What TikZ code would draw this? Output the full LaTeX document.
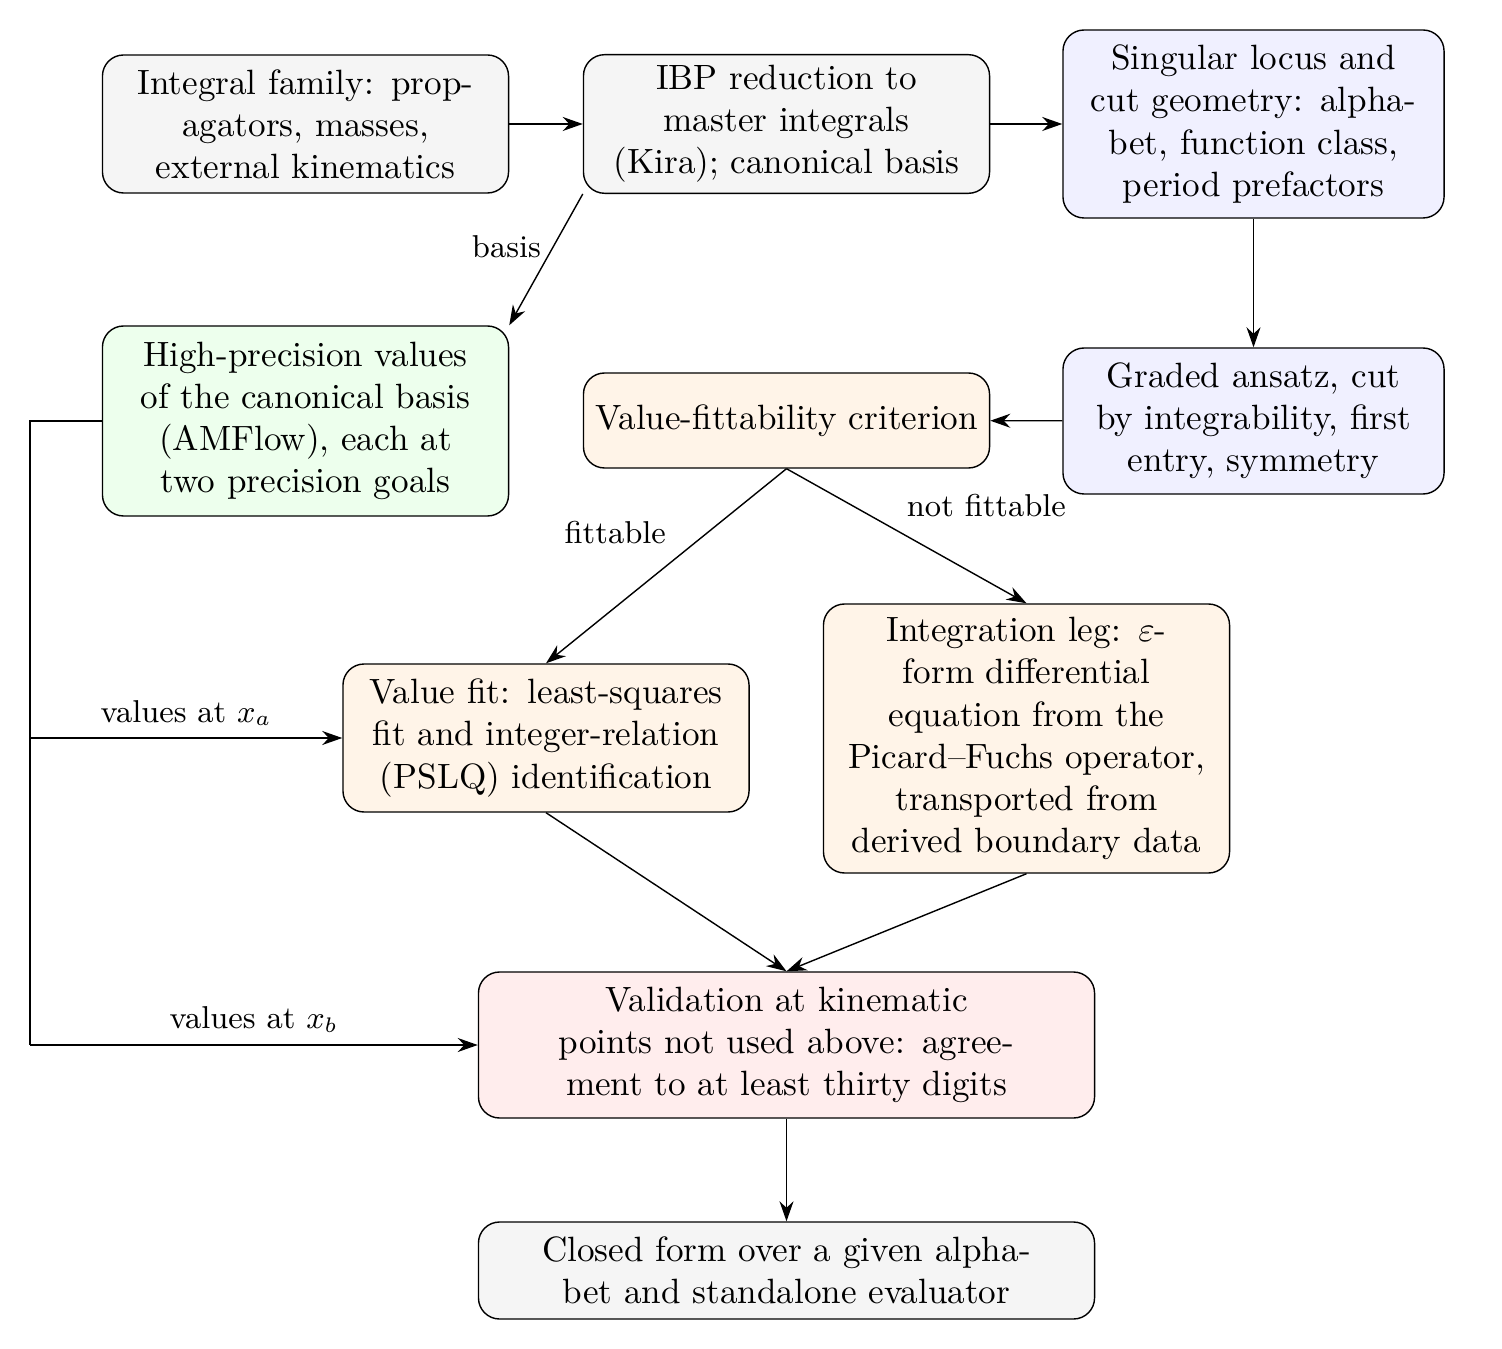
\documentclass[tikz,border=0pt]{standalone}
\usepackage{amsmath}
\usepackage{amssymb}
\usetikzlibrary{arrows.meta}

\begin{document}
\begin{tikzpicture}[>={Stealth[length=2mm,width=1.4mm]}]
\tikzstyle{stepbox}=[draw,rounded corners=6pt,align=center,inner sep=3pt]
\tikzstyle{greybox}=[stepbox,fill=black!4]
\tikzstyle{bluebox}=[stepbox,fill=blue!6]
\tikzstyle{greenbox}=[stepbox,fill=green!7]
\tikzstyle{orangebox}=[stepbox,fill=orange!9]
\tikzstyle{redbox}=[stepbox,fill=red!7]
\tikzstyle{lbl}=[font=\small]

\useasboundingbox (0,0) rectangle (15.02,-13.49);

\node [greybox,text width=3.85cm,minimum height=1.38cm] (fam) at (3.055,-1.24)
 {Integral family: propagators, masses, external kinematics};
\node [greybox,text width=3.85cm,minimum height=1.38cm] (ibp) at (7.865,-1.24)
 {IBP reduction to master integrals (Kira); canonical basis};
\node [bluebox,text width=3.6cm,minimum height=1.88cm] (sing) at (12.535,-1.24)
 {Singular locus and cut geometry: alphabet, function class, period prefactors};
\node [greenbox,text width=3.85cm,minimum height=1.9cm] (amf) at (3.055,-4.21)
 {High-precision values of the canonical basis (AMFlow), each at two precision goals};
\node [orangebox,text width=3.85cm,minimum height=0.95cm] (crit) at (7.865,-4.205)
 {Value-fittability criterion};
\node [bluebox,text width=3.6cm,minimum height=1.46cm] (ans) at (12.535,-4.21)
 {Graded ansatz, cut by integrability, first entry, symmetry};
\node [orangebox,text width=3.85cm,minimum height=1.48cm] (fit) at (5.46,-7.38)
 {Value fit: least-squares fit and integer-relation (PSLQ) identification};
\node [orangebox,text width=3.85cm,minimum height=2.69cm] (leg) at (10.265,-7.385)
 {Integration leg: $\varepsilon$-form differential equation from the Picard--Fuchs operator, transported from derived boundary data};
\node [redbox,text width=5.95cm,minimum height=1.46cm] (val) at (7.865,-10.45)
 {Validation at kinematic points not used above: agreement to at least thirty digits};
\node [greybox,text width=5.95cm,minimum height=0.97cm] (cls) at (7.865,-12.705)
 {Closed form over a given alphabet and standalone evaluator};

\coordinate (tap) at (0.3,-4.21);
\coordinate (ta) at (0.3,-7.38);
\coordinate (tb) at (0.3,-10.45);

\draw[->] (fam) -- (ibp);
\draw[->] (ibp) -- (sing);
\draw[->] (sing) -- (ans);
\draw[->] (ans) -- (crit);
\draw[->] (ibp.south west) -- node[lbl,left,pos=0.4] {basis} (amf.north east);
\draw[->] (crit.south) -- node[lbl,above left,pos=0.45] {fittable} (fit.north);
\draw[->] (crit.south) -- node[lbl,above right,pos=0.45] {not fittable} (leg.north);
\draw[->] (fit.south) -- (val.north);
\draw[->] (leg.south) -- (val.north);
\draw[->] (val) -- (cls);
\draw (amf.west) -- (tap) -- (tb);
\draw[->] (ta) -- node[lbl,above,pos=0.5] {values at $x_a$} (fit.west);
\draw[->] (tb) -- node[lbl,above,pos=0.5] {values at $x_b$} (val.west);
\end{tikzpicture}
\end{document}
